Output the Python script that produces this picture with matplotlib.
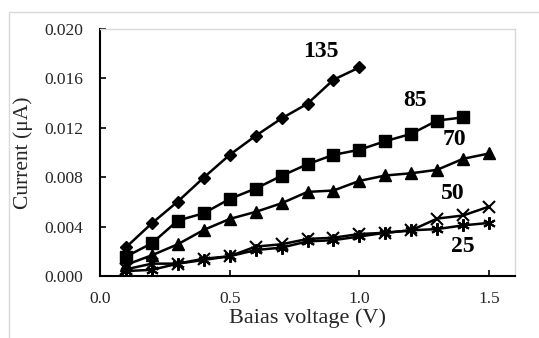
import matplotlib
matplotlib.use("Agg")
import matplotlib.pyplot as plt
from matplotlib.patches import Rectangle

x135 = [0.1, 0.2, 0.3, 0.4, 0.5, 0.6, 0.7, 0.8, 0.9, 1.0]
y135 = [0.00232, 0.00427, 0.00603, 0.00797, 0.00981, 0.01135, 0.01276, 0.01395, 0.01589, 0.01689]

x85 = [0.1, 0.2, 0.3, 0.4, 0.5, 0.6, 0.7, 0.8, 0.9, 1.0, 1.1, 1.2, 1.3, 1.4]
y85 = [0.00157, 0.00265, 0.00449, 0.00508, 0.00624, 0.00708, 0.00811, 0.00905, 0.00981,
       0.01022, 0.01092, 0.01151, 0.01259, 0.01284]

x70 = [0.1, 0.2, 0.3, 0.4, 0.5, 0.6, 0.7, 0.8, 0.9, 1.0, 1.1, 1.2, 1.3, 1.4, 1.5]
y70 = [0.0009, 0.00168, 0.00257, 0.00373, 0.00462, 0.00519, 0.00589, 0.00681, 0.00692,
       0.0077, 0.00814, 0.00832, 0.0086, 0.00949, 0.00992]

x50 = [0.1, 0.2, 0.3, 0.4, 0.5, 0.6, 0.7, 0.8, 0.9, 1.0, 1.1, 1.2, 1.3, 1.4, 1.5]
y50 = [0.00054, 0.001, 0.001, 0.0014, 0.0016, 0.00238, 0.00257, 0.0030, 0.0031,
       0.0034, 0.0035, 0.0037, 0.00465, 0.0049, 0.00562]

x25 = [0.1, 0.2, 0.3, 0.4, 0.5, 0.6, 0.7, 0.8, 0.9, 1.0, 1.1, 1.2, 1.3, 1.4, 1.5]
y25 = [0.0004, 0.0005, 0.001, 0.0013, 0.0016, 0.0021, 0.0023, 0.0028, 0.0029,
       0.0032, 0.0035, 0.0037, 0.0038, 0.0041, 0.0043]

labels = ["135", "85", "70", "50", "25"]
label_pos = [(0.852, 0.01814), (1.215, 0.01425), (1.365, 0.01109), (1.361, 0.00672), (1.40, 0.00235)]

x_ticks = [0.0, 0.5, 1.0, 1.5]
y_ticks = [0.000, 0.004, 0.008, 0.012, 0.016, 0.020]

plt.rcParams['font.family'] = ['Liberation Serif', 'DejaVu Serif']

fig = plt.figure(figsize=(5.39, 3.38), dpi=100)
fig.patches.append(Rectangle((9/539, -0.1), 1.2, (338-12)/338 + 0.1, transform=fig.transFigure,
                             fill=False, edgecolor='#d9d9d9', linewidth=1.0))
ax = fig.add_axes([100/539, 1-276/338, 415/539, 247/338])

lc = 'black'
ax.plot(x135, y135, color=lc, lw=1.8, marker='D', ms=6, mfc=lc, mec=lc, zorder=5)
ax.plot(x85, y85, color=lc, lw=1.8, marker='s', ms=8.5, mfc=lc, mec=lc, zorder=5)
ax.plot(x70, y70, color=lc, lw=1.8, marker='^', ms=8, mfc=lc, mec=lc, zorder=5)
ax.plot(x50, y50, color=lc, lw=1.8, marker='x', ms=8, mew=1.5, mec=lc, zorder=5)
ax.plot(x25, y25, color=lc, lw=1.8, marker=(6, 2, 0), ms=9, mew=1.5, mec=lc, zorder=5)

for t, (lx, ly) in zip(labels, label_pos):
    ax.text(lx, ly, t, ha='center', va='center', fontsize=17, fontweight='bold', color='black')

ax.set_xlim(0, 1.6)
ax.set_ylim(0, 0.020)
ax.set_xticks(x_ticks)
ax.set_xticklabels([f"{v:.1f}" for v in x_ticks])
ax.set_yticks(y_ticks)
ax.set_yticklabels([f"{v:.3f}" for v in y_ticks])
ax.tick_params(direction='in', length=4, width=1.2, labelsize=12.5, colors='black',
               labelcolor='#262626', pad=12)
ax.tick_params(axis='x', pad=11)
for s in ['left', 'bottom']:
    ax.spines[s].set_linewidth(1.5)
    ax.spines[s].set_color('black')
for s in ['top', 'right']:
    ax.spines[s].set_linewidth(1.0)
    ax.spines[s].set_color('#d9d9d9')

ax.set_xlabel("Baias voltage (V)", fontsize=16, labelpad=1, color='#262626')
ax.set_ylabel("Current (μA)", fontsize=15.5, labelpad=8, color='#262626')

fig.savefig("out.png", dpi=100)
